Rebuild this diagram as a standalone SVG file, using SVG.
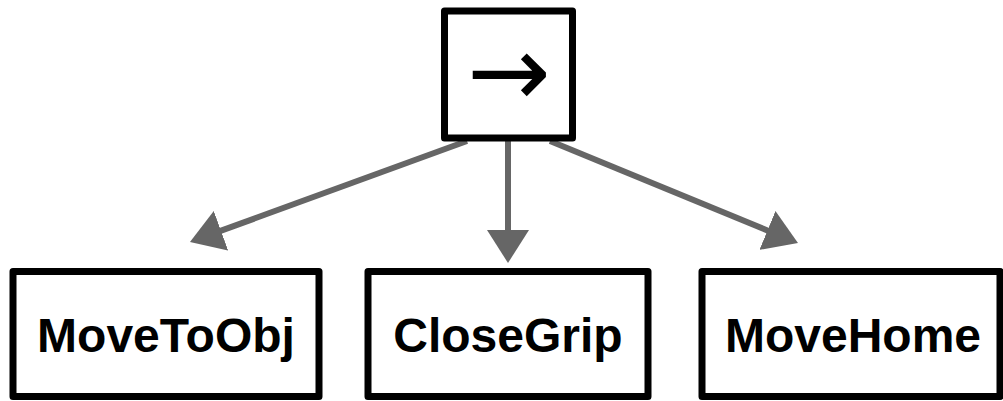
<svg xmlns="http://www.w3.org/2000/svg" width="1003" height="401" viewBox="0 0 1003 401">
  <style>
    .box { fill: #ffffff; stroke: #000000; stroke-width: 7; stroke-linejoin: round; }
    .label { font-family: "Liberation Sans", Arial, sans-serif; font-weight: bold; font-size: 48px; fill: #000000; text-anchor: middle; }
    .glyph { font-family: "DejaVu Sans", sans-serif; font-size: 100px; fill: #000000; text-anchor: middle; }
    .edge { stroke: #666666; stroke-width: 6; fill: none; marker-end: url(#head); }
  </style>
  <defs>
    <marker id="head" markerUnits="userSpaceOnUse" viewBox="0 0 33 42" refX="2" refY="21" markerWidth="33" markerHeight="42" orient="auto">
      <path d="M0,0 L33,21 L0,42 Z" fill="#666666"/>
    </marker>
  </defs>

  <!-- connectors from the sequence node to its children -->
  <g id="edges">
    <line class="edge" x1="467" y1="141" x2="219.1" y2="231.4"/>
    <line class="edge" x1="508" y1="141" x2="508" y2="232"/>
    <line class="edge" x1="550" y1="141" x2="769.3" y2="231.2"/>
  </g>

  <!-- sequence node -->
  <g id="sequence">
    <rect class="box" x="444.5" y="11" width="128" height="127"/>
    <text class="glyph" x="509" y="106">→</text>
  </g>

  <g id="moveToObj">
    <rect class="box" x="13" y="271.5" width="306" height="125"/>
    <text class="label" x="166" y="352">MoveToObj</text>
  </g>

  <g id="closeGrip">
    <rect class="box" x="368" y="271.5" width="280" height="125"/>
    <text class="label" x="508" y="352">CloseGrip</text>
  </g>

  <g id="moveHome">
    <rect class="box" x="702" y="271.5" width="298" height="125"/>
    <text class="label" x="853" y="352">MoveHome</text>
  </g>
</svg>
